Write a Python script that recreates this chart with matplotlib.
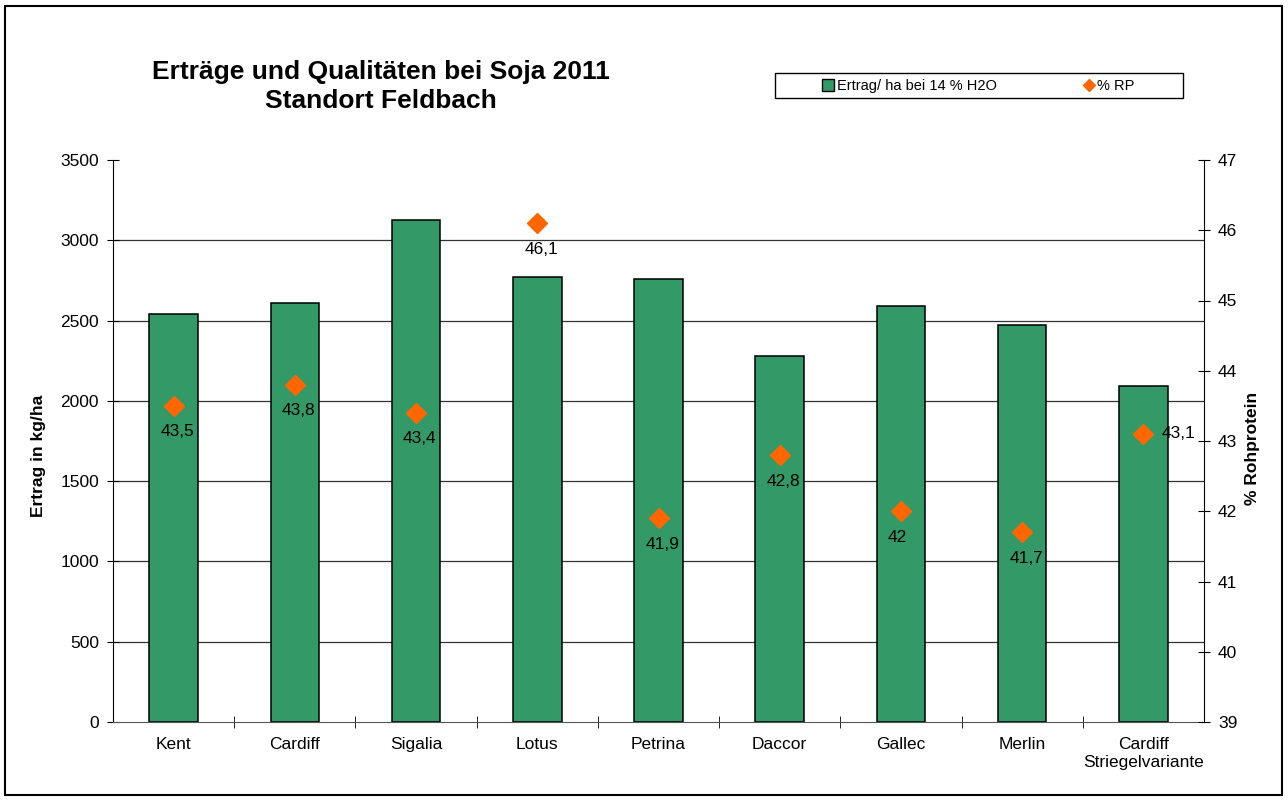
import matplotlib
matplotlib.use("Agg")
import matplotlib.pyplot as plt
from matplotlib.patches import Rectangle
from matplotlib.lines import Line2D
import numpy as np

plt.rcParams['font.family'] = ['Liberation Sans', 'DejaVu Sans']

categories = ["Kent", "Cardiff", "Sigalia", "Lotus", "Petrina", "Daccor",
              "Gallec", "Merlin", "Cardiff\nStriegelvariante"]
ertrag = [2540, 2610, 3125, 2770, 2760, 2280, 2590, 2472, 2090]
rp = [43.5, 43.8, 43.4, 46.1, 41.9, 42.8, 42.0, 41.7, 43.1]
rp_labels = ["43,5", "43,8", "43,4", "46,1", "41,9", "42,8", "42", "41,7", "43,1"]

BAR_COLOR = '#339966'
MARK_COLOR = '#FF6600'

W, H = 1288, 801
fig = plt.figure(figsize=(W / 100, H / 100), dpi=100)
fig.patches.append(Rectangle((5 / W, 6 / H), 1 - 11 / W, 1 - 12 / H,
                             transform=fig.transFigure, fill=False,
                             edgecolor='black', linewidth=1.5))

L, R, T, B = 113, 1204, 160, 722
ax = fig.add_axes([L / W, 1 - B / H, (R - L) / W, (B - T) / H])
x = np.arange(len(categories))
ax.set_xlim(-0.5, len(categories) - 0.5)
ax.set_ylim(0, 3500)
ax.set_yticks(np.arange(0, 3501, 500))
for yv in np.arange(500, 3001, 500):
    ax.axhline(yv, color='#333333', linewidth=0.9, zorder=0)
ax.bar(x, ertrag, width=0.40, color=BAR_COLOR, edgecolor='black',
       linewidth=1.1, zorder=2)

ax.set_xticks(x)
ax.set_xticklabels(categories, fontsize=12.5)
ax.tick_params(axis='x', length=0, pad=11)
ax.set_xticks(np.arange(0.5, len(categories) - 0.5, 1.0), minor=True)
ax.tick_params(axis='x', which='minor', length=8, direction='inout', color='black')
ax.tick_params(axis='y', length=8, direction='inout', labelsize=12.5, pad=6)
ax.spines['top'].set_visible(False)
ax.spines['right'].set_visible(False)
ax.spines['left'].set_color('black')
ax.spines['bottom'].set_color('#555555')
ax.set_ylabel("Ertrag in kg/ha", fontsize=12.5, fontweight='bold')
ax.yaxis.set_label_coords(-(L - 46) / (R - L), (B - 456) / (B - T))

ax2 = ax.twinx()
ax2.set_ylim(39, 47)
ax2.set_yticks(np.arange(39, 48, 1))
ax2.tick_params(axis='y', length=8, direction='inout', labelsize=12.5, pad=6)
for s in ['top', 'left', 'bottom']:
    ax2.spines[s].set_visible(False)
ax2.spines['right'].set_color('black')
ax2.set_ylabel("% Rohprotein", fontsize=12.5, fontweight='bold')
ax2.yaxis.set_label_coords(1 + (1245 - R) / (R - L), (B - 448) / (B - T))
ax2.plot(x, rp, linestyle='none', marker='D', markersize=10,
         color=MARK_COLOR, zorder=3)
for i, (xv, yv, lab) in enumerate(zip(x, rp, rp_labels)):
    if i == len(x) - 1:
        ax2.annotate(lab, (xv, yv), xytext=(18, 0), textcoords='offset pixels',
                     ha='left', va='center', fontsize=12.5)
    else:
        ax2.annotate(lab, (xv, yv), xytext=(-13, -26), textcoords='offset pixels',
                     ha='left', va='center', fontsize=12.5)

fig.text(381 / W, 1 - 72 / H, "Erträge und Qualitäten bei Soja 2011",
         ha='center', va='center', fontsize=19, fontweight='bold')
fig.text(381 / W, 1 - 101 / H, "Standort Feldbach",
         ha='center', va='center', fontsize=19, fontweight='bold')

# legend frame
fig.patches.append(Rectangle((775 / W, 1 - 98 / H), 408 / W, 25 / H,
                             transform=fig.transFigure, fill=False,
                             edgecolor='black', linewidth=1.0))
handles = [
    Rectangle((0, 0), 1, 1, facecolor=BAR_COLOR, edgecolor='black', linewidth=1),
    Line2D([], [], linestyle='none', marker='D', markersize=6.5, color=MARK_COLOR),
]
leg = fig.legend(handles, ["Ertrag/ ha bei 14 % H2O", "% RP"],
                 loc='center left', bbox_to_anchor=(822 / W, 1 - 86 / H),
                 ncol=2, frameon=False, fontsize=10.5,
                 handlelength=0.85, handleheight=0.85, handletextpad=0.15,
                 columnspacing=5.9, borderpad=0, borderaxespad=0)

fig.savefig("out.png", dpi=100)
